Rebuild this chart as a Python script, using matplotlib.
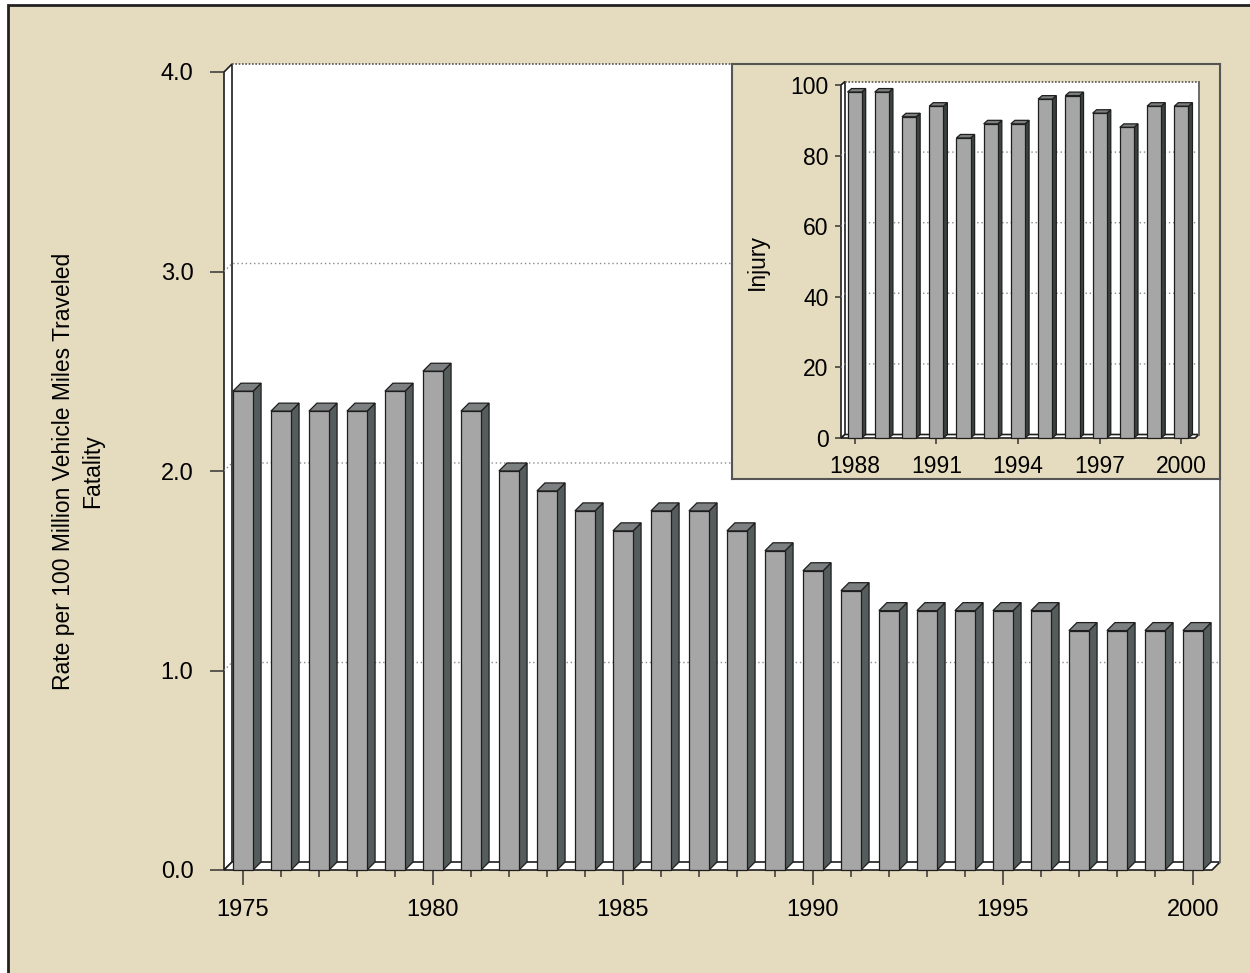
import matplotlib
matplotlib.use("Agg")
import matplotlib.pyplot as plt
from matplotlib.patches import Polygon, Rectangle
from matplotlib.ticker import MultipleLocator, FixedLocator

plt.rcParams['font.family'] = ['Liberation Sans', 'DejaVu Sans']

# fatality rate per 100 million VMT, 1975-2000
years = list(range(1975, 2001))
fatality = [2.4, 2.3, 2.3, 2.3, 2.4, 2.5, 2.3, 2.0, 1.9, 1.8, 1.7, 1.8, 1.8,
            1.7, 1.6, 1.5, 1.4, 1.3, 1.3, 1.3, 1.3, 1.3, 1.2, 1.2, 1.2, 1.2]

# injury rate per 100 million VMT, 1988-2000
injury_years = list(range(1988, 2001))
injury = [98, 98, 91, 94, 85, 89, 89, 96, 97, 92, 88, 94, 94]

TAN = '#E5DBBE'
FRONT = '#A6A6A6'
TOP = '#7D8080'
EDGE = '#1E1E1E'

W, H = 1250, 973


def draw_frame(ax, x0, x1, ytop, dx, dy, grid):
    kw = dict(closed=True, clip_on=False, joinstyle='miter')
    # back wall, left wall, floor
    ax.add_patch(Polygon([(x0 + dx, dy), (x1 + dx, dy), (x1 + dx, ytop + dy), (x0 + dx, ytop + dy)],
                         fc='white', ec='none', zorder=1, **kw))
    ax.add_patch(Polygon([(x0, 0), (x0 + dx, dy), (x0 + dx, ytop + dy), (x0, ytop)],
                         fc='white', ec=EDGE, lw=1.2, zorder=1.2, **kw))
    ax.add_patch(Polygon([(x0, 0), (x1, 0), (x1 + dx, dy), (x0 + dx, dy)],
                         fc='white', ec=EDGE, lw=1.2, zorder=1.2, **kw))
    for g in grid:
        ax.plot([x0, x0 + dx, x1 + dx], [g, g + dy, g + dy], ls=(0, (1, 2)), color='#8a8a8a',
                lw=1, clip_on=False, zorder=1.5)
    ax.plot([x0 + dx, x1 + dx], [ytop + dy] * 2, ls=(0, (1, 1)), color='#555555', lw=1.2,
            clip_on=False, zorder=1.5)
    ax.plot([x1 + dx] * 2, [dy, ytop + dy], color='#6a6a6a', lw=1.4, clip_on=False, zorder=1.5)


def draw_bars(ax, xs, vals, w, dx, dy, side):
    for x, v in zip(xs, vals):
        xl, xr = x - w / 2, x + w / 2
        ax.add_patch(Polygon([(xr, 0), (xr + dx, dy), (xr + dx, v + dy), (xr, v)], closed=True,
                             fc=side, ec=EDGE, lw=0.9, clip_on=False, zorder=3))
        ax.add_patch(Polygon([(xl, v), (xr, v), (xr + dx, v + dy), (xl + dx, v + dy)], closed=True,
                             fc=TOP, ec=EDGE, lw=0.9, clip_on=False, zorder=3))
    ax.bar(xs, vals, width=w, color=FRONT, edgecolor=EDGE, linewidth=0.9, zorder=3.5, clip_on=False)


def bare_axes(ax):
    ax.set_facecolor('none')
    for s in ax.spines.values():
        s.set_visible(False)


fig = plt.figure(figsize=(12.5, 9.73), dpi=100, facecolor='white')
fig.patches.append(Rectangle((7.5 / W, -0.05), 1.2, 1 - 4.5 / H + 0.05, transform=fig.transFigure,
                             fc=TAN, ec='#222222', lw=2, zorder=-1))

# main chart
ax = fig.add_axes([224 / W, 1 - 870 / H, 988 / W, 798 / H])
ax.set_zorder(1)
bare_axes(ax)
ax.set_xlim(1974.5, 2000.5)
ax.set_ylim(0, 4)
dx_main = 8 / 38.0
dy_main = 8 / 199.5
draw_frame(ax, 1974.5, 2000.5, 4.0, dx_main, dy_main, [1, 2, 3])
draw_bars(ax, years, fatality, 0.53, dx_main, dy_main, '#545C5C')

ax.xaxis.set_major_locator(MultipleLocator(5))
ax.xaxis.set_minor_locator(MultipleLocator(1))
ax.yaxis.set_major_locator(MultipleLocator(1))
ax.yaxis.set_major_formatter(lambda v, p: f'{v:.1f}')
ax.tick_params(axis='x', which='major', length=11, width=1.1, color='#333333', pad=10, labelsize=17)
ax.tick_params(axis='x', which='minor', length=5, width=1.1, color='#333333')
ax.tick_params(axis='y', length=10, width=1.1, color='#333333', pad=12, labelsize=17)

fig.text(78 / W, 1 - 471 / H, 'Rate per 100 Million Vehicle Miles Traveled\nFatality',
         rotation=90, ha='center', va='center', fontsize=16.5, multialignment='center',
         linespacing=1.3)

# inset panel
ax_box = fig.add_axes([732 / W, 1 - 479 / H, 488 / W, 415 / H])
ax_box.set_zorder(2)
ax_box.set_facecolor(TAN)
ax_box.set_xticks([])
ax_box.set_yticks([])
for s in ax_box.spines.values():
    s.set_color('#555555')
    s.set_linewidth(1.5)

ax_in = fig.add_axes([841 / W, 1 - 438 / H, 354 / W, 353 / H])
ax_in.set_zorder(3)
bare_axes(ax_in)
ax_in.set_xlim(1987.5, 2000.5)
ax_in.set_ylim(0, 100)
dx_in = 4 / 27.25
dy_in = 3.5 / 3.53
draw_frame(ax_in, 1987.5, 2000.5, 100, dx_in, dy_in, [20, 40, 60, 80])
draw_bars(ax_in, injury_years, injury, 0.52, dx_in, dy_in, '#3C4242')
ax_in.xaxis.set_major_locator(FixedLocator([1988, 1991, 1994, 1997, 2000]))
ax_in.yaxis.set_major_locator(MultipleLocator(20))
ax_in.tick_params(axis='both', length=4, width=1.1, color='#333333', labelsize=16.5)
ax_in.tick_params(axis='x', pad=8)
ax_in.tick_params(axis='y', pad=5)
fig.text(757 / W, 1 - 262 / H, 'Injury', rotation=90, ha='center', va='center', fontsize=16.5)

fig.savefig('out.png', dpi=100, facecolor=fig.get_facecolor())
